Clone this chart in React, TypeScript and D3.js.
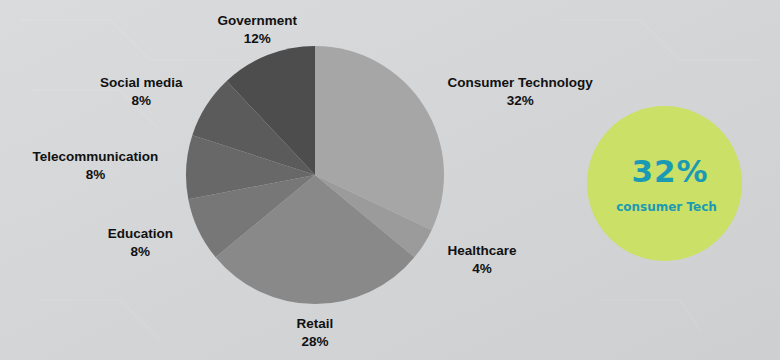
import React from "react";
import * as d3 from "d3";

const categories = ["Consumer Technology", "Healthcare", "Retail", "Education", "Telecommunication", "Social media", "Government"];
const values = [32, 4, 28, 8, 8, 8, 12];
const sliceColors = ["#a6a6a6", "#9b9b9b", "#898989", "#777777", "#686868", "#5b5b5b", "#4d4d4d"];
const highlightValue = "32%";
const highlightLabel = "consumer Tech";

const W = 780;
const H = 360;
const LABEL_FONT = "'Liberation Sans', Arial, sans-serif";
const LABEL_SIZE = 13.5;

function Label({ x, y, anchor, name, pct }: { x: number; y: number; anchor: string; name: string; pct: string }) {
  const ref = React.useRef<SVGTextElement>(null);
  const [w, setW] = React.useState(0);
  React.useEffect(() => {
    if (ref.current) setW(ref.current.getComputedTextLength());
  }, [name]);
  const pctX = anchor === "start" ? x + w / 2 : anchor === "end" ? x - w / 2 : x;
  return (
    <g fontFamily={LABEL_FONT} fontSize={LABEL_SIZE} fontWeight="bold" fill="#111">
      <text ref={ref} x={x} y={y - 4} textAnchor={anchor}>{name}</text>
      <text x={pctX} y={y + 14} textAnchor="middle">{pct}</text>
    </g>
  );
}

export default function App() {
  const cx = 315;
  const cy = 175;
  const r = 129;
  const labelR = 157;
  const data = categories.map((c, i) => ({ c, v: values[i], color: sliceColors[i] }));
  const pie = d3.pie<any>().value((d) => d.v).sort(null);
  const arcs = pie(data);
  const arcGen = d3.arc<any>().innerRadius(0).outerRadius(r);

  return (
    <svg width={W} height={H} style={{ position: "fixed", left: 0, top: 0 }}>
      <defs>
        <linearGradient id="bg" x1="0" y1="0" x2="1" y2="1">
          <stop offset="0" stopColor="#d9dbdd" />
          <stop offset="0.5" stopColor="#d3d5d7" />
          <stop offset="1" stopColor="#cdcfd1" />
        </linearGradient>
      </defs>
      <rect width={W} height={H} fill="url(#bg)" />
      <g stroke="#ffffff" strokeOpacity={0.06} fill="none" strokeWidth={2}>
        <path d="M20,20 L110,20 L150,60 L240,60" />
        <path d="M30,90 L120,90 L160,130" />
        <path d="M40,300 L120,300 L160,340" />
        <path d="M560,20 L640,20 L680,60 L760,60" />
        <path d="M600,300 L680,300 L700,330" />
      </g>
      <g transform={`translate(${cx},${cy})`}>
        {arcs.map((a, i) => (
          <path key={i} d={arcGen(a) as string} fill={a.data.color} />
        ))}
      </g>
      {arcs.map((a, i) => {
        const mid = (a.startAngle + a.endAngle) / 2;
        const s = Math.sin(mid);
        const x = cx + labelR * s;
        const y = cy - labelR * Math.cos(mid);
        const anchor = s > 0.5 ? "start" : s < -0.5 ? "end" : "middle";
        return <Label key={i} x={x} y={y} anchor={anchor} name={a.data.c} pct={`${a.data.v}%`} />;
      })}
      <circle cx={664.5} cy={183.5} r={77.5} fill="#cbe067" />
      <text x={670} y={182} textAnchor="middle" fontFamily="'DejaVu Sans', Verdana, sans-serif" fontWeight="bold" fontSize={31} letterSpacing={1} fill="#1b9bb3">
        {highlightValue}
      </text>
      <text x={666.5} y={211} textAnchor="middle" fontFamily="'DejaVu Sans', Verdana, sans-serif" fontWeight="bold" fontSize={12} fill="#1b9bb3">
        {highlightLabel}
      </text>
    </svg>
  );
}
